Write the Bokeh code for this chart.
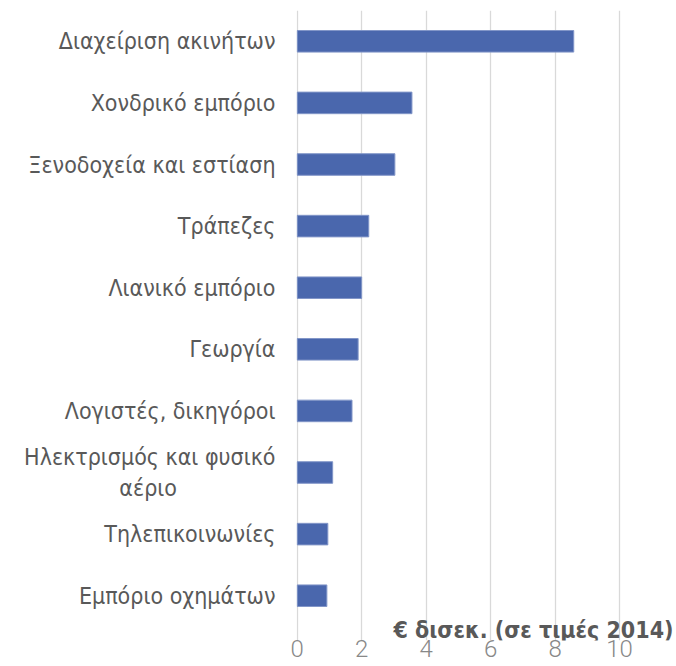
from bokeh.plotting import figure
from bokeh.models import Range1d, Label, FixedTicker
from bokeh.embed import file_html
from bokeh.resources import INLINE

categories = [
    "Διαχείριση ακινήτων",
    "Χονδρικό εμπόριο",
    "Ξενοδοχεία και εστίαση",
    "Τράπεζες",
    "Λιανικό εμπόριο",
    "Γεωργία",
    "Λογιστές, δικηγόροι",
    "Ηλεκτρισμός και φυσικό\nαέριο",
    "Τηλεπικοινωνίες",
    "Εμπόριο οχημάτων",
]
values = [8.58, 3.56, 3.03, 2.22, 2.00, 1.89, 1.70, 1.10, 0.95, 0.92]
x_ticks = [0, 2, 4, 6, 8, 10]
axis_title = "€ δισεκ. (σε τιμές 2014)"

LABEL_FONT = "DejaVu Sans Condensed, DejaVu Sans"


def centre_lines(label):
    # centre the lines of a wrapped label under each other (right-anchored axis label)
    lines = label.split("\n")
    if len(lines) == 1:
        return label
    longest = max(len(s) for s in lines)
    out = []
    for s in lines:
        pad = int(round((longest - len(s)) * 11.5 / 2 / 6.6))
        out.append(s + "\u00a0" * pad)
    return "\n".join(out)


# category slots, top to bottom
positions = list(range(len(categories)))

p = figure(
    width=676, height=666,
    y_range=Range1d(start=9.727, end=-0.5),
    x_range=Range1d(start=-0.022, end=11.768),
    output_backend="svg", toolbar_location=None,
    min_border_left=296, min_border_right=0,
    min_border_top=10, min_border_bottom=26,
)
p.outline_line_color = None
p.background_fill_color = "white"
p.border_fill_color = "white"

p.hbar(y=positions, left=0, right=values, height=0.35,
       fill_color="#4A67AD", line_color="#8296C8", line_width=1)

p.ygrid.grid_line_color = None
p.xgrid.grid_line_color = "#D9D9D9"
p.xgrid.grid_line_width = 1.3
p.xaxis.ticker = FixedTicker(ticks=x_ticks)

p.xaxis.axis_line_color = None
p.xaxis.major_tick_line_color = None
p.xaxis.minor_tick_line_color = None
p.xaxis.major_tick_out = 0
p.xaxis.major_tick_in = 0
p.xaxis.minor_tick_out = 0
p.xaxis.major_label_standoff = -1
p.xaxis.major_label_text_font = "Roboto Light, Roboto"
p.xaxis.major_label_text_font_size = "24px"
p.xaxis.major_label_text_color = "#888888"

p.yaxis.ticker = FixedTicker(ticks=positions)
p.yaxis.major_label_overrides = {pos: centre_lines(cat) for pos, cat in zip(positions, categories)}
p.yaxis.axis_line_color = None
p.yaxis.major_tick_line_color = None
p.yaxis.minor_tick_line_color = None
p.yaxis.major_tick_out = 0
p.yaxis.major_tick_in = 0
p.yaxis.minor_tick_out = 0
p.yaxis.major_label_standoff = 21
p.yaxis.major_label_text_font = LABEL_FONT
p.yaxis.major_label_text_font_size = "23px"
p.yaxis.major_label_text_color = "#595959"

title = Label(x=10, y=positions[-1] + 0.5, x_units="data", y_units="data",
              text=axis_title, text_align="right", text_baseline="middle",
              x_offset=54, y_offset=-3,
              text_font=LABEL_FONT, text_font_size="23px",
              text_font_style="bold", text_color="#595959")
p.add_layout(title)

open("out.html", "w").write(file_html(p, INLINE))
